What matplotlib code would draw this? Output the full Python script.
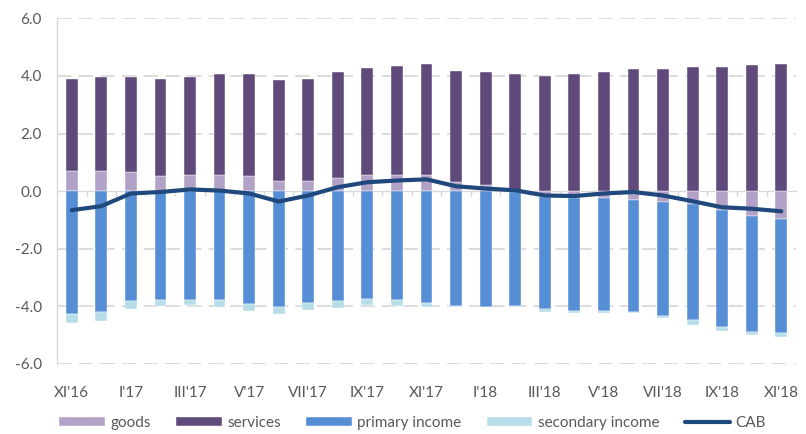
import matplotlib.pyplot as plt
import numpy as np

plt.rcParams['font.family'] = ['Lato', 'DejaVu Sans']
plt.rcParams['axes.unicode_minus'] = False

# months XI'16 .. XI'18
months = ["XI'16", "XII'16", "I'17", "II'17", "III'17", "IV'17", "V'17", "VI'17",
          "VII'17", "VIII'17", "IX'17", "X'17", "XI'17", "XII'17", "I'18", "II'18",
          "III'18", "IV'18", "V'18", "VI'18", "VII'18", "VIII'18", "IX'18", "X'18", "XI'18"]

goods = [0.70, 0.70, 0.66, 0.52, 0.56, 0.56, 0.52, 0.35, 0.35, 0.45, 0.56, 0.56, 0.56,
         0.31, 0.20, -0.03, -0.20, -0.23, -0.23, -0.29, -0.37, -0.46, -0.65, -0.87, -0.95]
services = [3.21, 3.28, 3.32, 3.39, 3.42, 3.49, 3.53, 3.52, 3.56, 3.68, 3.71, 3.78, 3.85,
            3.85, 3.93, 4.05, 4.01, 4.05, 4.13, 4.23, 4.23, 4.30, 4.30, 4.37, 4.41]
primary = [-4.27, -4.20, -3.80, -3.77, -3.77, -3.77, -3.91, -4.01, -3.87, -3.80, -3.73, -3.77,
           -3.87, -3.98, -4.01, -3.95, -3.88, -3.92, -3.92, -3.89, -3.95, -4.01, -4.07, -4.03, -3.99]
secondary = [-0.31, -0.31, -0.28, -0.21, -0.17, -0.24, -0.24, -0.24, -0.24, -0.24, -0.21, -0.21,
             -0.14, -0.03, -0.01, -0.03, -0.10, -0.07, -0.07, -0.04, -0.07, -0.18, -0.15, -0.11, -0.14]
cab = [-0.66, -0.52, -0.08, -0.03, 0.06, 0.02, -0.08, -0.36, -0.15, 0.14, 0.31, 0.37, 0.41,
       0.17, 0.09, 0.03, -0.15, -0.17, -0.08, -0.03, -0.15, -0.35, -0.56, -0.61, -0.70]

c_goods = '#B3A2C7'
c_serv = '#604A7B'
c_prim = '#558ED5'
c_sec = '#B7DEE8'
c_cab = '#1F497D'
txt = '#595959'
grid = '#D9D9D9'

fig = plt.figure(figsize=(8.06, 4.34), dpi=100)
ax = fig.add_axes([0.0707, 0.1613, 0.917, 0.7965])

x = np.arange(len(months))
g = np.array(goods)
pos_base = np.clip(g, 0, None)
neg_base = np.clip(g, None, 0)
w = 0.4
ekw = dict(edgecolor='white', linewidth=0.3)

b1 = ax.bar(x, g, w, color=c_goods, label='goods', zorder=2, **ekw)
b2 = ax.bar(x, services, w, bottom=pos_base, color=c_serv, label='services', zorder=2, **ekw)
b3 = ax.bar(x, primary, w, bottom=neg_base, color=c_prim, label='primary income', zorder=2, **ekw)
b4 = ax.bar(x, secondary, w, bottom=neg_base + np.array(primary), color=c_sec,
            label='secondary income', zorder=2, **ekw)
ln, = ax.plot(x, cab, color=c_cab, lw=3, label='CAB', zorder=4,
              solid_joinstyle='round', solid_capstyle='round')

ax.set_xlim(-0.5, len(months) - 0.5)
ax.set_ylim(-6, 6)
ax.set_yticks(np.arange(-6, 6.1, 2))
ax.set_yticklabels(['%.1f' % v for v in np.arange(-6, 6.1, 2)])
ax.tick_params(axis='y', length=0, pad=11, labelsize=11, labelcolor=txt)

for v in [-6, -4, -2, 2, 4, 6]:
    ax.axhline(v, color=grid, lw=1.3, dashes=(8, 4), zorder=0)

for s in ['top', 'right']:
    ax.spines[s].set_visible(False)
ax.spines['left'].set_color(grid)
ax.spines['left'].set_linewidth(1.0)
ax.spines['bottom'].set_position(('data', 0))
ax.spines['bottom'].set_color(grid)
ax.spines['bottom'].set_linewidth(1.0)
ax.spines['bottom'].set_zorder(1)
ax.set_xticks(x[:-1] + 0.5)
ax.set_xticklabels([])
ax.tick_params(axis='x', length=3.5, color=grid, width=1.0, direction='out')

sec = ax.secondary_xaxis(-0.05)
sec.set_xticks(x[::2])
sec.set_xticklabels(months[::2])
sec.tick_params(length=0, labelsize=11, labelcolor=txt)
sec.spines['bottom'].set_visible(False)

fig.legend(handles=[b1, b2, b3, b4, ln], loc='lower center', bbox_to_anchor=(0.512, -0.022),
           ncol=5, frameon=False, fontsize=11, handlelength=3.0, handleheight=0.55,
           handletextpad=0.35, columnspacing=1.65, labelcolor=txt)

fig.savefig('out.png', dpi=100)
